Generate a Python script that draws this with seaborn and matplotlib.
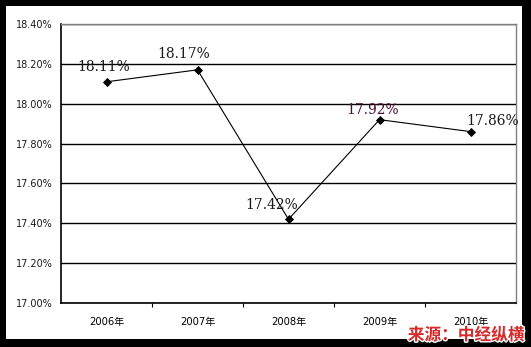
import matplotlib
matplotlib.use("Agg")
import matplotlib.pyplot as plt
import matplotlib.patheffects as pe
from matplotlib.patches import Rectangle
from matplotlib.ticker import FixedLocator
import seaborn as sns
import pandas as pd

years = ["2006年", "2007年", "2008年", "2009年", "2010年"]
rates = [18.11, 18.17, 17.42, 17.92, 17.86]
y_ticks = [17.00, 17.20, 17.40, 17.60, 17.80, 18.00, 18.20, 18.40]
source_text = "来源：中经纵横"

sns.set_theme(style="white")
plt.rcParams["font.family"] = ["DejaVu Sans", "Noto Sans CJK SC"]

W, H = 531, 347
fig = plt.figure(figsize=(W / 100, H / 100), dpi=100, facecolor="white")
ax = fig.add_axes([61 / W, 1 - 303 / H, (516 - 61) / W, (303 - 24) / H])

df = pd.DataFrame({"year": years, "rate": rates})
sns.pointplot(data=df, x="year", y="rate", ax=ax, color="black",
              markers="D", markersize=4, linewidth=0.8, errorbar=None)

ax.set_xlim(-0.5, len(years) - 0.5)
ax.set_ylim(y_ticks[0], y_ticks[-1])
ax.set_yticks(y_ticks)
ax.set_yticklabels([f"{v:.2f}%" for v in y_ticks], fontsize=7, color="#1a1a1a")
ax.set_xlabel("")
ax.set_ylabel("")
ax.tick_params(axis="x", which="major", length=0, pad=10, labelsize=7.2, labelcolor="black")
ax.tick_params(axis="y", which="major", length=0, pad=6)
ax.xaxis.set_minor_locator(FixedLocator([i + 0.5 for i in range(len(years) - 1)]))
ax.tick_params(axis="x", which="minor", bottom=True, length=3, width=0.8, color="black", direction="out")

ax.set_axisbelow(True)
ax.yaxis.grid(True, color="black", linewidth=1.0)
ax.xaxis.grid(False)
for side in ["left", "bottom"]:
    ax.spines[side].set_color("black")
    ax.spines[side].set_linewidth(1.2)
for side in ["top", "right"]:
    ax.spines[side].set_color("#808080")
    ax.spines[side].set_linewidth(1.0)
    ax.spines[side].set_visible(True)

# data labels (offsets in pixels as placed in the original)
offsets = [(-3, 15), (-14, 16), (-17, 14), (-7, 10), (22, 11)]
label_colors = ["#1a1a1a", "#1a1a1a", "#1a1a1a", "#4a1030", "#1a1a1a"]
for i, (v, (dx, dy), c) in enumerate(zip(rates, offsets, label_colors)):
    ax.annotate(f"{v:.2f}%", xy=(i, v), xytext=(dx * 0.72, dy * 0.72),
                textcoords="offset points", ha="center", va="center",
                fontsize=10, family="DejaVu Serif", color=c)

# black frame around the picture
frame = [(0, 0, 6 / W, 1), (0, 1 - 6 / H, 1, 6 / H),
         (1 - 9 / W, 0, 9 / W, 1), (0, 0, 1, 8 / H)]
for (x0, y0, w, h) in frame:
    fig.patches.append(Rectangle((x0, y0), w, h, transform=fig.transFigure,
                                 facecolor="black", edgecolor="none", zorder=5))

fig.text(466 / W, 1 - 335 / H, source_text, ha="center", va="center",
         fontsize=12, fontweight="bold", color="#d42a2a", style="italic",
         family=["Noto Sans CJK SC"], zorder=10,
         path_effects=[pe.withStroke(linewidth=2, foreground="white")])

fig.savefig("out.png", dpi=100, facecolor="white")
